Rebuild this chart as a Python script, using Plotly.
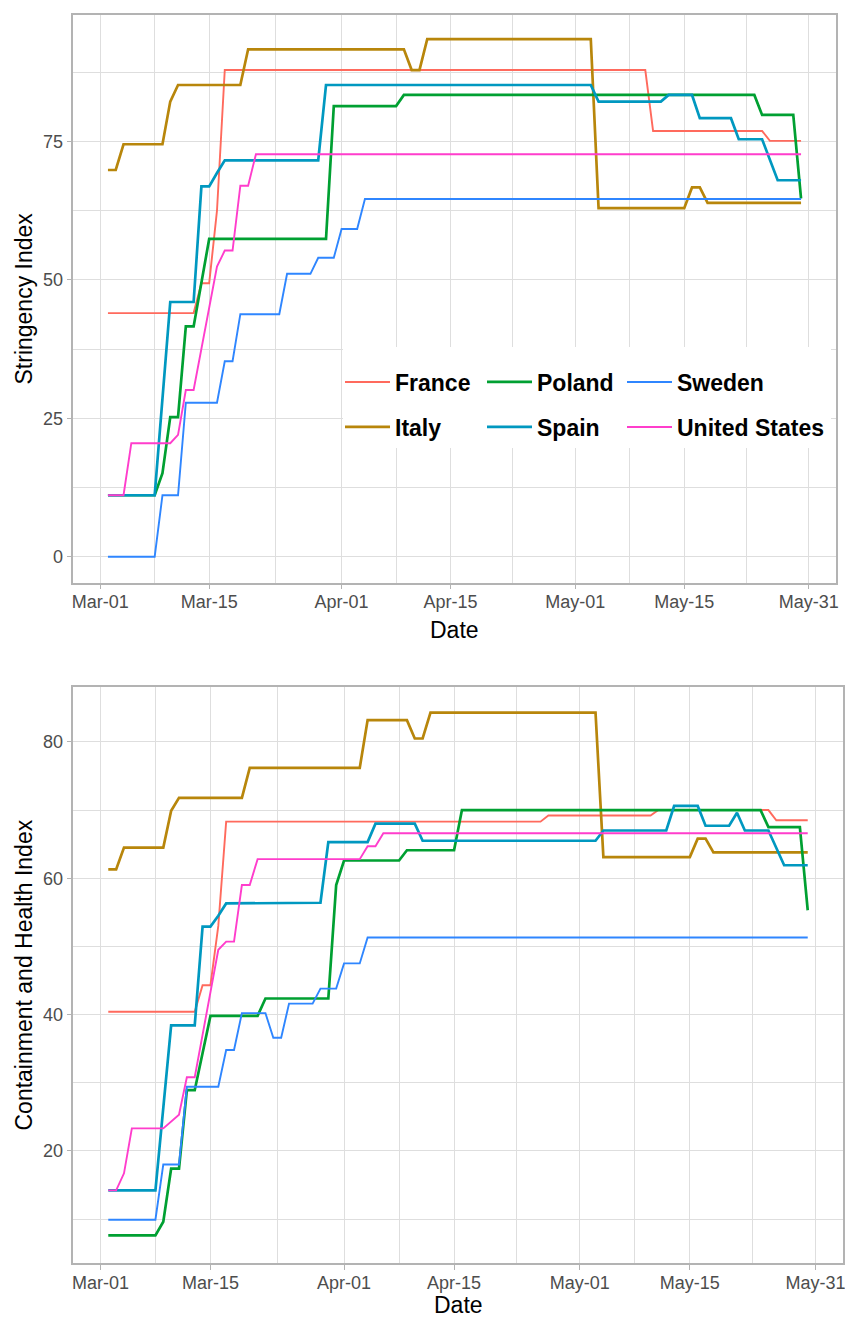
import plotly.graph_objects as go

YEAR = "2020"
COUNTRIES = ["France", "Italy", "Poland", "Spain", "Sweden", "United States"]
TICK_DATES = ["03-01", "03-15", "04-01", "04-15", "05-01", "05-15", "05-31"]
TICK_TEXT = ["Mar-01", "Mar-15", "Apr-01", "Apr-15", "May-01", "May-15", "May-31"]
MINOR_DATES = ["03-08", "03-23 12:00", "04-08", "04-23", "05-08", "05-23"]

# ---- Stringency Index (vertices of the daily series) ----
S_FRANCE_D = ["03-02", "03-13", "03-14", "03-15", "03-16", "03-17", "05-10", "05-11", "05-25", "05-26", "05-30"]
S_FRANCE_V = [44.0, 44.0, 49.4, 49.4, 62.5, 87.9, 87.9, 76.9, 76.9, 75.1, 75.1]
S_ITALY_D = ["03-02", "03-03", "03-04", "03-09", "03-10", "03-11", "03-19", "03-20", "04-09", "04-10", "04-11", "04-12",
             "05-03", "05-04", "05-15", "05-16", "05-17", "05-18", "05-30"]
S_ITALY_V = [69.85, 69.85, 74.5, 74.5, 82.2, 85.2, 85.2, 91.65, 91.65, 87.9, 87.9, 93.5,
             93.5, 62.96, 62.96, 66.7, 66.7, 63.9, 63.9]
S_POLAND_D = ["03-02", "03-08", "03-09", "03-10", "03-11", "03-12", "03-13", "03-15", "03-30", "03-31", "04-08", "04-09",
              "05-24", "05-25", "05-29", "05-30"]
S_POLAND_V = [11.1, 11.1, 15.1, 25.2, 25.2, 41.6, 41.6, 57.4, 57.4, 81.4, 81.4, 83.4,
              83.4, 79.8, 79.8, 64.7]
S_SPAIN_D = ["03-02", "03-08", "03-10", "03-13", "03-14", "03-15", "03-16", "03-17", "03-29", "03-30", "05-03", "05-04",
             "05-12", "05-13", "05-16", "05-17", "05-21", "05-22", "05-25", "05-27", "05-30"]
S_SPAIN_V = [11.1, 11.1, 46.0, 46.0, 66.9, 66.9, 69.3, 71.6, 71.6, 85.2, 85.2, 82.2,
             82.2, 83.4, 83.4, 79.2, 79.2, 75.4, 75.4, 68.0, 68.0]
S_SWEDEN_D = ["03-02", "03-08", "03-09", "03-11", "03-12", "03-16", "03-17", "03-18", "03-19", "03-24", "03-25", "03-28",
              "03-29", "03-31", "04-01", "04-03", "04-04", "05-30"]
S_SWEDEN_V = [0.0, 0.0, 11.1, 11.1, 27.8, 27.8, 35.3, 35.3, 43.8, 43.8, 51.1, 51.1,
              54.0, 54.0, 59.2, 59.2, 64.6, 64.6]
S_US_D = ["03-02", "03-04", "03-05", "03-10", "03-11", "03-12", "03-13", "03-16", "03-17", "03-18", "03-19", "03-20",
          "03-21", "05-30"]
S_US_V = [11.1, 11.1, 20.5, 20.5, 22.0, 30.1, 30.1, 52.4, 55.3, 55.3, 67.0, 67.0, 72.7, 72.7]

# ---- Containment and Health Index ----
C_FRANCE_D = ["03-02", "03-13", "03-14", "03-15", "03-16", "03-17", "04-26", "04-27", "05-10", "05-11", "05-25", "05-26", "05-30"]
C_FRANCE_V = [40.4, 40.4, 44.3, 44.3, 53.0, 68.3, 68.3, 69.2, 69.2, 70.0, 70.0, 68.5, 68.5]
C_ITALY_D = ["03-02", "03-03", "03-04", "03-09", "03-10", "03-11", "03-19", "03-20", "04-03", "04-04", "04-09", "04-10",
             "04-11", "04-12", "05-03", "05-04", "05-15", "05-16", "05-17", "05-18", "05-30"]
C_ITALY_V = [61.3, 61.3, 64.5, 64.5, 69.9, 71.8, 71.8, 76.2, 76.2, 83.2, 83.2, 80.5,
             80.5, 84.3, 84.3, 63.1, 63.1, 65.8, 65.8, 63.8, 63.8]
C_POLAND_D = ["03-02", "03-08", "03-09", "03-10", "03-11", "03-12", "03-13", "03-15", "03-21", "03-22", "03-30", "03-31",
              "04-01", "04-08", "04-09", "04-15", "04-16", "05-24", "05-25", "05-29", "05-30"]
C_POLAND_V = [7.6, 7.6, 9.6, 17.4, 17.4, 28.9, 28.9, 39.8, 39.8, 42.35, 42.35, 59.0,
              62.6, 62.6, 64.1, 64.1, 70.0, 70.0, 67.5, 67.5, 55.3]
C_SPAIN_D = ["03-02", "03-08", "03-10", "03-13", "03-14", "03-15", "03-16", "03-17", "03-29", "03-30", "04-04", "04-05",
             "04-10", "04-11", "05-03", "05-04", "05-12", "05-13", "05-16", "05-17", "05-20", "05-21", "05-22",
             "05-25", "05-27", "05-30"]
C_SPAIN_V = [14.2, 14.2, 38.4, 38.4, 52.9, 52.9, 54.5, 56.3, 56.4, 65.3, 65.3, 68.0,
             68.0, 65.5, 65.5, 67.0, 67.0, 70.6, 70.6, 67.7, 67.7, 69.6, 67.0,
             67.0, 61.9, 61.9]
C_SWEDEN_D = ["03-02", "03-08", "03-09", "03-11", "03-12", "03-16", "03-17", "03-18", "03-19", "03-22", "03-23", "03-24",
              "03-25", "03-28", "03-29", "03-31", "04-01", "04-03", "04-04", "05-30"]
C_SWEDEN_V = [9.9, 9.9, 18.0, 18.0, 29.4, 29.4, 34.8, 34.8, 40.2, 40.2, 36.6, 36.6,
              41.6, 41.6, 43.8, 43.8, 47.5, 47.5, 51.3, 51.3]
C_US_D = ["03-02", "03-03", "03-04", "03-05", "03-09", "03-11", "03-12", "03-13", "03-16", "03-17", "03-18", "03-19",
          "03-20", "03-21", "04-03", "04-04", "04-05", "04-06", "05-30"]
C_US_V = [14.2, 14.2, 16.7, 23.3, 23.3, 25.3, 30.8, 30.8, 49.5, 50.7, 50.7, 59.0,
          59.0, 62.8, 62.8, 64.7, 64.7, 66.6, 66.6]

STRINGENCY = {
    "France": (S_FRANCE_D, S_FRANCE_V), "Italy": (S_ITALY_D, S_ITALY_V), "Poland": (S_POLAND_D, S_POLAND_V),
    "Spain": (S_SPAIN_D, S_SPAIN_V), "Sweden": (S_SWEDEN_D, S_SWEDEN_V), "United States": (S_US_D, S_US_V),
}
CONTAINMENT = {
    "France": (C_FRANCE_D, C_FRANCE_V), "Italy": (C_ITALY_D, C_ITALY_V), "Poland": (C_POLAND_D, C_POLAND_V),
    "Spain": (C_SPAIN_D, C_SPAIN_V), "Sweden": (C_SWEDEN_D, C_SWEDEN_V), "United States": (C_US_D, C_US_V),
}

COLORS = {"France": "#FF6A5D", "Italy": "#B8860B", "Poland": "#00A032",
          "Spain": "#0098C0", "Sweden": "#2F86FF", "United States": "#FF3DCC"}
WIDTHS = {"France": 1.9, "Italy": 2.7, "Poland": 2.7, "Spain": 2.7, "Sweden": 1.9, "United States": 1.9}
# legend slot (column, row) for each country, 3 columns x 2 rows
LEGEND_SLOT = {"France": (0, 0), "Poland": (1, 0), "Sweden": (2, 0),
               "Italy": (0, 1), "Spain": (1, 1), "United States": (2, 1)}
LEGEND_NAMES = {"France": "legend", "Italy": "legend2", "Poland": "legend3",
                "Spain": "legend4", "Sweden": "legend5", "United States": "legend6"}

W, H = 845, 1320
FONT = "Liberation Sans, Arial, sans-serif"
LEG_COL_X = [340, 482, 622]
LEG_ROW_Y = [382, 427]


def full(d):
    return f"{YEAR}-{d}"


fig = go.Figure()
for c in COUNTRIES:
    d, v = STRINGENCY[c]
    fig.add_trace(go.Scatter(x=[full(t) for t in d], y=v, mode="lines", name=c,
                             line=dict(color=COLORS[c], width=WIDTHS[c]),
                             xaxis="x", yaxis="y", legend=LEGEND_NAMES[c], showlegend=True))
for c in COUNTRIES:
    d, v = CONTAINMENT[c]
    fig.add_trace(go.Scatter(x=[full(t) for t in d], y=v, mode="lines", name=c,
                             line=dict(color=COLORS[c], width=WIDTHS[c]),
                             xaxis="x2", yaxis="y2", showlegend=False))

GRID = "#DEDEDE"
BORDER = "#B3B3B3"
TICKFONT = dict(family=FONT, size=18, color="#4D4D4D")
xr = ["2020-02-26 13:12", "2020-06-03 10:48"]


def xaxis(domain, anchor):
    return dict(domain=domain, anchor=anchor, type="date", range=xr,
                tickmode="array", tickvals=[full(t) for t in TICK_DATES], ticktext=TICK_TEXT,
                showgrid=True, gridcolor=GRID, gridwidth=1.3,
                minor=dict(tickmode="array", tickvals=[full(t) for t in MINOR_DATES],
                           showgrid=True, gridcolor=GRID, gridwidth=1.2, ticks=""),
                ticks="outside", ticklen=5, tickcolor=BORDER, tickwidth=1.3,
                showline=True, linecolor=BORDER, linewidth=1.5, mirror=True,
                zeroline=False, tickfont=TICKFONT, automargin=False,
                ticklabeloverflow="allow", ticklabelstandoff=-3)


def yaxis(domain, anchor, rng, tv, mv):
    return dict(domain=domain, anchor=anchor, range=rng,
                tickmode="array", tickvals=tv, ticktext=[str(t) for t in tv],
                showgrid=True, gridcolor=GRID, gridwidth=1.3,
                minor=dict(tickmode="array", tickvals=mv, showgrid=True, gridcolor=GRID, gridwidth=1.2, ticks=""),
                ticks="outside", ticklen=5, tickcolor=BORDER, tickwidth=1.3,
                showline=True, linecolor=BORDER, linewidth=1.5, mirror=True,
                zeroline=False, tickfont=TICKFONT, automargin=False, ticklabeloverflow="allow")


legends = {}
for c in COUNTRIES:
    col, row = LEGEND_SLOT[c]
    legends[LEGEND_NAMES[c]] = dict(
        x=LEG_COL_X[col] / W, y=1 - LEG_ROW_Y[row] / H, xanchor="left", yanchor="middle",
        orientation="h", bgcolor="rgba(0,0,0,0)", borderwidth=0, itemwidth=45,
        font=dict(family=FONT, size=23, color="black", weight="bold"))

fig.update_layout(
    width=W, height=H, margin=dict(l=0, r=0, t=0, b=0),
    paper_bgcolor="white", plot_bgcolor="white",
    xaxis=xaxis([73.3 / W, 835.7 / W], "y"),
    yaxis=yaxis([1 - 582.7 / H, 1 - 14.7 / H], "x", [-4.7, 97.9], [0, 25, 50, 75], [12.5, 37.5, 62.5, 87.5]),
    xaxis2=xaxis([73.3 / W, 842.7 / W], "y2"),
    yaxis2=yaxis([1 - 1263.3 / H, 1 - 686.7 / H], "x2", [3.5, 88.1], [20, 40, 60, 80], [10, 30, 50, 70]),
    shapes=[dict(type="rect", xref="paper", yref="paper", x0=343 / W, x1=831 / W,
                 y0=1 - 448 / H, y1=1 - 347 / H, fillcolor="white", line=dict(width=0), layer="above")],
    annotations=[
        dict(text="Stringency Index", x=23.5 / W, y=1 - 299 / H, xref="paper", yref="paper", textangle=-90,
             showarrow=False, font=dict(family=FONT, size=23, color="black"), xanchor="center", yanchor="middle"),
        dict(text="Date", x=454.5 / W, y=1 - 630 / H, xref="paper", yref="paper",
             showarrow=False, font=dict(family=FONT, size=23, color="black"), xanchor="center", yanchor="middle"),
        dict(text="Containment and Health Index", x=23.5 / W, y=1 - 975 / H, xref="paper", yref="paper",
             textangle=-90, showarrow=False, font=dict(family=FONT, size=23, color="black"),
             xanchor="center", yanchor="middle"),
        dict(text="Date", x=458 / W, y=0, xref="paper", yref="paper",
             showarrow=False, font=dict(family=FONT, size=23, color="black"), xanchor="center", yanchor="bottom"),
    ],
    **legends,
)

fig.write_html("out.html")
